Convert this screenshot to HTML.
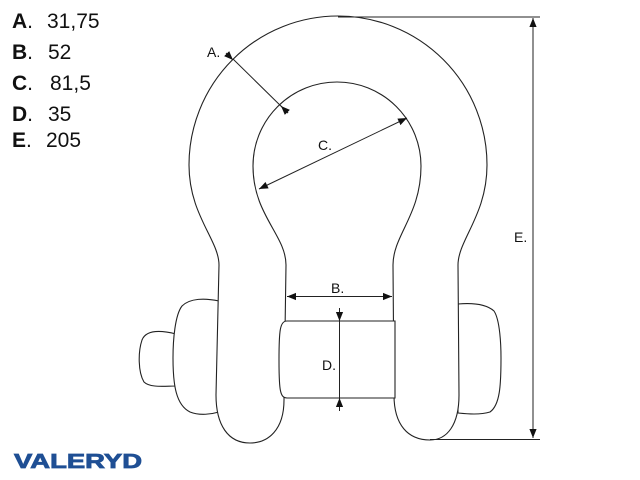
<!DOCTYPE html>
<html><head><meta charset="utf-8"><style>
html,body{margin:0;padding:0;background:#fff;}
svg{display:block;}
</style></head><body>
<svg width="640" height="480" viewBox="0 0 640 480" xmlns="http://www.w3.org/2000/svg" font-family="Liberation Sans, sans-serif">
<defs>
<marker id="ar" viewBox="0 0 10 10" refX="10" refY="5" markerWidth="9" markerHeight="9" orient="auto-start-reverse" markerUnits="userSpaceOnUse"><path d="M0,1 L10,5 L0,9 Z" fill="#111"/></marker>
</defs>
<g fill="#fff" stroke="#222" stroke-width="1.1">
<path d="M176,334 C160,330 146,330 142,340 C138,352 138,372 144,382 C150,388 165,386 176,386 Z"/>
<path d="M219,301 C205,298 190,298 182,306 C175,315 173,340 173,358 C173,385 176,405 190,412 C200,416 212,414 219,412 Z"/>
<path d="M458,304 C470,303 485,303 494,311 C500,320 501,345 501,358 C501,385 500,405 490,412 C480,415 468,414 458,413 Z"/>
<path d="M286,265 L284,400 C284,430 268,443 250,443 C228,443 216,425 216,395 L219,265 C219,240 189,215 189,165 A149,149 0 0 1 487,165 C487,215 458,240 458,265 L459,395 C459,425 447,440 430,440 C408,440 394,425 394,395 L393,265 C393,235 421,215 421,166 A84,84 0 0 0 253,166 C253,215 286,235 286,265 Z"/>
<path d="M287,321 L395,321 L395,398 L287,398 C280,398 279,390 279,360 C279,330 280,321 287,321 Z"/>
</g>
<g stroke="#222" stroke-width="1" fill="none">
<line x1="338" y1="17" x2="540" y2="17"/>
<line x1="430" y1="439.5" x2="540" y2="439.5"/>
<line x1="533" y1="18" x2="533" y2="438" marker-start="url(#ar)" marker-end="url(#ar)"/>
<line x1="226" y1="53" x2="233" y2="60" marker-end="url(#ar)"/>
<line x1="233" y1="59" x2="288" y2="113"/>
<line x1="288" y1="113" x2="281" y2="106" marker-end="url(#ar)"/>
<line x1="259" y1="189" x2="407" y2="118" marker-start="url(#ar)" marker-end="url(#ar)"/>
<line x1="287" y1="296.5" x2="392" y2="296.5" marker-start="url(#ar)" marker-end="url(#ar)"/>
<line x1="339.5" y1="308" x2="339.5" y2="321" marker-end="url(#ar)"/>
<line x1="339.5" y1="321" x2="339.5" y2="398"/>
<line x1="339.5" y1="411" x2="339.5" y2="398" marker-end="url(#ar)"/>
</g>
<g font-size="14" fill="#111">
<text x="207" y="57">A.</text>
<text x="318" y="150">C.</text>
<text x="331" y="293">B.</text>
<text x="322" y="370">D.</text>
<text x="514" y="242">E.</text>
</g>
<g font-size="21" fill="#111">
<text x="12" y="28"><tspan font-weight="bold">A</tspan>.</text><text x="47" y="28">31,75</text>
<text x="12" y="59"><tspan font-weight="bold">B</tspan>.</text><text x="48" y="59">52</text>
<text x="12" y="90"><tspan font-weight="bold">C</tspan>.</text><text x="50" y="90">81,5</text>
<text x="12" y="121"><tspan font-weight="bold">D</tspan>.</text><text x="48" y="121">35</text>
<text x="12" y="147"><tspan font-weight="bold">E</tspan>.</text><text x="46" y="147">205</text>
</g>
<text x="14" y="468" font-size="20" font-weight="bold" fill="#1f4f94" stroke="#1f4f94" stroke-width="0.8" textLength="128" lengthAdjust="spacingAndGlyphs">VALERYD</text>
</svg>
</body></html>
